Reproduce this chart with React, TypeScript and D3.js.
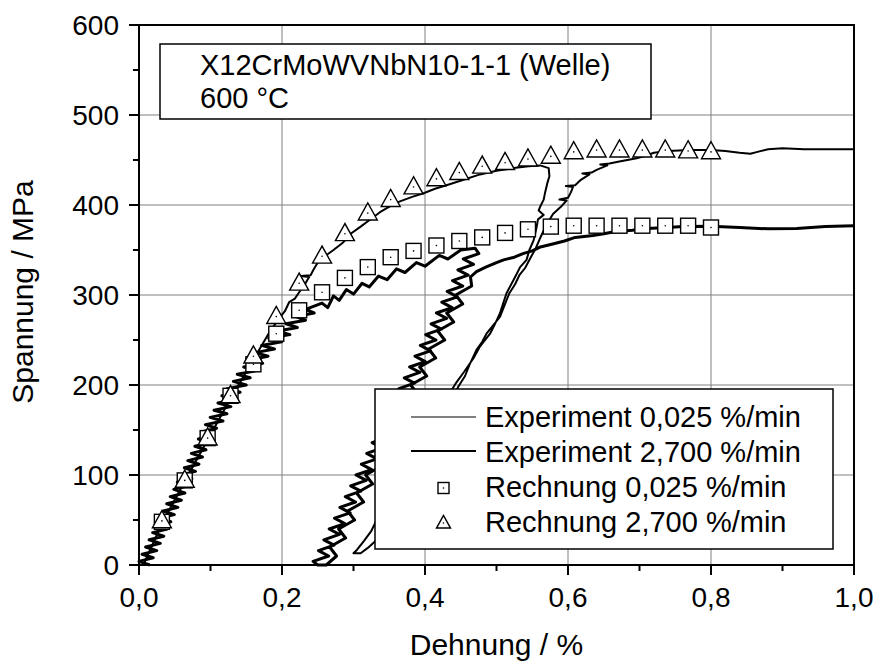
import * as d3 from "d3";

// Dehnung / % (strain) vs Spannung / MPa (stress)
const calcStrain = [0.032, 0.064, 0.096, 0.128, 0.16, 0.192, 0.224, 0.256, 0.288, 0.32, 0.352, 0.384, 0.416,
  0.448, 0.48, 0.512, 0.544, 0.576, 0.608, 0.64, 0.672, 0.704, 0.736, 0.768, 0.8];
const calcSlow = [48, 94, 141, 188, 223, 257, 283, 303, 319, 331, 342, 349, 355,
  360, 364, 369, 373, 376, 377, 377, 377, 377, 377, 377, 375];
const calcFast = [49, 94, 141, 188, 232, 276, 313, 343, 368, 391, 406, 420, 429,
  436, 443, 447, 451, 454, 459, 461, 461, 461, 461, 460, 459];

// Experiment 0,025 %/min (noisy signal, read as a zigzag band)
const expSlowLoading: [number, number][] = [
  [0.015, 0], [0.000, 4], [0.0199, 8], [0.0044, 12], [0.0248, 16], [0.0093, 20], [0.0298, 24], [0.0142, 28],
  [0.0347, 32], [0.0191, 36], [0.0396, 40], [0.0241, 44], [0.0445, 48], [0.029, 52], [0.0494, 56], [0.0339, 60],
  [0.0544, 64], [0.0388, 68], [0.0593, 72], [0.0437, 76], [0.0642, 80], [0.0487, 84], [0.0691, 88], [0.0536, 92],
  [0.074, 96], [0.0585, 100], [0.079, 104], [0.0634, 108], [0.0839, 112], [0.0683, 116], [0.0888, 120], [0.0733, 124],
  [0.0937, 128], [0.0782, 132], [0.0986, 136], [0.0831, 140], [0.1036, 144], [0.088, 148], [0.1085, 152], [0.0929, 156],
  [0.1175, 160], [0.0995, 164], [0.123, 168], [0.105, 172], [0.1285, 176], [0.1105, 180], [0.134, 184], [0.116, 188],
  [0.1415, 192], [0.1235, 196], [0.150, 200], [0.132, 204], [0.1555, 208], [0.1375, 212], [0.1645, 216], [0.1465, 220],
  [0.173, 224], [0.155, 228], [0.1805, 232], [0.1625, 236], [0.1895, 240], [0.1715, 244], [0.1995, 248], [0.1815, 252],
  [0.211, 256], [0.194, 260], [0.2215, 264], [0.2055, 268], [0.233, 272], [0.219, 276], [0.245, 280], [0.233, 284],
  [0.256, 291], [0.264, 286], [0.272, 299], [0.28, 294], [0.29, 306], [0.30, 301], [0.312, 313], [0.322, 309],
  [0.335, 321], [0.347, 317], [0.36, 329], [0.372, 325], [0.388, 336], [0.40, 332], [0.42, 344], [0.432, 340],
  [0.45, 350], [0.47, 352],
];
const expSlowUnloading: [number, number][] = [
  [0.4753, 346], [0.4535, 340], [0.4678, 334], [0.446, 328], [0.4603, 322], [0.4385, 316], [0.4528, 310],
  [0.431, 304], [0.4453, 298], [0.4235, 292], [0.4378, 286], [0.416, 280], [0.4303, 274], [0.4085, 268],
  [0.4228, 262], [0.401, 256], [0.4153, 250], [0.3935, 244], [0.4078, 238], [0.386, 232], [0.4003, 226],
  [0.3785, 220], [0.3928, 214], [0.371, 208], [0.3853, 202], [0.3635, 196], [0.3778, 190], [0.356, 184],
  [0.3703, 178], [0.3485, 172], [0.3628, 166], [0.341, 160], [0.3553, 154], [0.3335, 148], [0.3478, 142],
  [0.326, 136], [0.3403, 130], [0.3185, 124], [0.3328, 118], [0.311, 112], [0.3253, 106], [0.3035, 100],
  [0.3178, 94], [0.296, 88], [0.3103, 82], [0.2885, 76], [0.3028, 70], [0.281, 64], [0.2953, 58], [0.2735, 52],
  [0.2878, 46], [0.266, 40], [0.2803, 34], [0.2585, 28], [0.2728, 22], [0.251, 16], [0.2653, 10], [0.2435, 4],
  [0.25, 0],
];
const expSlowReloading: [number, number][] = [
  [0.262, 0], [0.2763, 10], [0.2666, 20], [0.2889, 30], [0.2792, 40], [0.3015, 50], [0.2918, 60], [0.3141, 70],
  [0.3044, 80], [0.3267, 90], [0.317, 100], [0.3393, 110], [0.3296, 120], [0.3519, 130], [0.3422, 140],
  [0.3645, 150], [0.3548, 160], [0.3771, 170], [0.3674, 180], [0.3897, 190], [0.380, 200], [0.4023, 210],
  [0.3926, 220], [0.4149, 230], [0.4052, 240], [0.4275, 250], [0.4178, 260], [0.4401, 270], [0.4304, 280],
  [0.4527, 290], [0.443, 300], [0.4653, 310], [0.4636, 320], [0.472, 326], [0.485, 331], [0.50, 336],
  [0.51, 339], [0.525, 342], [0.537, 346], [0.55, 349], [0.56, 353], [0.58, 357], [0.595, 360], [0.61, 364],
  [0.635, 366], [0.65, 368], [0.663, 370], [0.69, 372], [0.71, 374], [0.74, 375], [0.76, 376], [0.80, 376.5],
  [0.84, 375], [0.88, 373.5], [0.92, 374], [0.96, 376], [1.0, 377],
];

// Experiment 2,700 %/min
const expFastLoading: [number, number][] = [
  [0.006, 0], [0.032, 46], [0.064, 93], [0.096, 139], [0.128, 185], [0.148, 212], [0.165, 235], [0.182, 258],
  [0.196, 274], [0.204, 282], [0.21, 292], [0.218, 296], [0.224, 303], [0.232, 312], [0.238, 320], [0.226, 321],
  [0.24, 322], [0.244, 328], [0.25, 336], [0.258, 342], [0.272, 350], [0.285, 358], [0.296, 368], [0.31, 376],
  [0.322, 383], [0.337, 392], [0.352, 399], [0.365, 404], [0.382, 409], [0.398, 413], [0.414, 418], [0.43, 422],
  [0.454, 428], [0.477, 434], [0.5, 438], [0.524, 441], [0.545, 443], [0.561, 444], [0.573, 441],
];
const expFastUnloading: [number, number][] = [
  [0.574, 432], [0.571, 424], [0.568, 414], [0.566, 406], [0.561, 398], [0.559, 394], [0.566, 389], [0.558, 384],
  [0.556, 375], [0.552, 361], [0.546, 350], [0.542, 339], [0.533, 331], [0.528, 323], [0.524, 317], [0.514, 302],
  [0.509, 290], [0.505, 280], [0.498, 268], [0.491, 257], [0.477, 243], [0.468, 230], [0.455, 215], [0.444, 203],
  [0.42, 172], [0.40, 146], [0.38, 118], [0.36, 90], [0.34, 62], [0.325, 38], [0.315, 27], [0.305, 17], [0.30, 13],
];
const expFastReloading: [number, number][] = [
  [0.31, 13], [0.32, 19], [0.33, 26], [0.338, 36], [0.35, 55], [0.37, 85], [0.39, 115], [0.41, 145], [0.43, 175],
  [0.448, 200], [0.456, 210], [0.462, 222], [0.472, 239], [0.48, 248], [0.486, 257], [0.495, 266], [0.505, 276],
  [0.512, 290], [0.518, 302], [0.526, 312], [0.532, 322], [0.54, 330], [0.548, 342], [0.555, 352], [0.562, 365],
  [0.57, 378], [0.579, 390], [0.59, 398], [0.598, 405], [0.588, 406], [0.60, 408], [0.604, 414], [0.607, 420],
  [0.597, 421], [0.61, 422], [0.618, 428], [0.63, 434], [0.62, 435], [0.633, 436], [0.64, 439], [0.655, 444],
  [0.645, 445], [0.658, 446], [0.67, 448], [0.696, 452], [0.71, 455], [0.72, 458], [0.74, 460], [0.77, 461],
  [0.80, 461], [0.82, 460], [0.84, 458], [0.855, 457], [0.865, 459], [0.88, 462], [0.9, 463], [0.93, 462],
  [0.96, 462], [1.0, 462],
];

const xTicks = [0, 0.2, 0.4, 0.6, 0.8, 1.0];
const yTicks = [0, 100, 200, 300, 400, 500, 600];
const legendLabels = ["Experiment 0,025 %/min", "Experiment 2,700 %/min", "Rechnung 0,025 %/min", "Rechnung 2,700 %/min"];
const noteLines = ["X12CrMoWVNbN10-1-1 (Welle)", "600 °C"];

const W = 877, H = 662;
const m = { left: 139, right: 854, top: 25, bottom: 565 };
const FONT = "'Liberation Sans', Arial, sans-serif";

function Square({ cx, cy, s }: { cx: number; cy: number; s: number }) {
  return (
    <g>
      <rect x={cx - s / 2} y={cy - s / 2} width={s} height={s} fill="#fff" stroke="#000" strokeWidth={1.4} />
      <circle cx={cx} cy={cy} r={0.8} fill="#000" />
    </g>
  );
}

function Triangle({ cx, cy, s }: { cx: number; cy: number; s: number }) {
  const h = s * 0.9;
  const pts = `${cx},${cy - h * 0.6} ${cx - s / 2},${cy + h * 0.4} ${cx + s / 2},${cy + h * 0.4}`;
  return (
    <g>
      <polygon points={pts} fill="#fff" stroke="#000" strokeWidth={1.4} strokeLinejoin="miter" />
      <circle cx={cx} cy={cy} r={0.8} fill="#000" />
    </g>
  );
}

export default function App() {
  const x = d3.scaleLinear().domain([0, 1]).range([m.left, m.right]);
  const y = d3.scaleLinear().domain([0, 600]).range([m.bottom, m.top]);
  const line = d3.line<[number, number]>().x(d => x(d[0])).y(d => y(d[1]));
  const fmt = (v: number) => d3.format(".1f")(v).replace(".", ",");

  const xMinor = d3.range(0.1, 1, 0.2);
  const yMinor = d3.range(50, 600, 100);

  const slowPath = line([...expSlowLoading, ...expSlowUnloading, ...expSlowReloading]);
  const fastPath = line([...expFastLoading, ...expFastUnloading, ...expFastReloading]);

  const lg = { x0: 375, y0: 389, x1: 833, y1: 549 };
  const rows = [417, 451, 488, 523];

  return (
    <svg width={W} height={H} style={{ position: "absolute", left: 0, top: 0, background: "#fff" }} fontFamily={FONT}>
      <rect x={0} y={0} width={W} height={H} fill="#fff" />
      {/* grid */}
      {xTicks.slice(1, -1).map(t => (
        <line key={"gx" + t} x1={x(t)} x2={x(t)} y1={m.top} y2={m.bottom} stroke="#808080" strokeWidth={1} />
      ))}
      {yTicks.slice(1, -1).map(t => (
        <line key={"gy" + t} x1={m.left} x2={m.right} y1={y(t)} y2={y(t)} stroke="#808080" strokeWidth={1} />
      ))}

      {/* experiment curves */}
      <path d={slowPath ?? ""} fill="none" stroke="#000" strokeWidth={3} strokeLinejoin="round" />
      <path d={fastPath ?? ""} fill="none" stroke="#000" strokeWidth={2} strokeLinejoin="round" />

      {/* calculation markers */}
      {calcStrain.map((s, i) => <Square key={"sq" + i} cx={x(s)} cy={y(calcSlow[i])} s={15} />)}
      {calcStrain.map((s, i) => <Triangle key={"tr" + i} cx={x(s)} cy={y(calcFast[i])} s={19} />)}

      {/* frame */}
      <rect x={m.left} y={m.top} width={m.right - m.left} height={m.bottom - m.top} fill="none" stroke="#000" strokeWidth={2} />

      {/* x axis ticks */}
      {xTicks.map(t => (
        <g key={"xt" + t}>
          <line x1={x(t)} x2={x(t)} y1={m.bottom} y2={m.bottom + 10} stroke="#000" strokeWidth={2} />
          <text x={x(t)} y={607} fontSize={28} textAnchor="middle">{fmt(t)}</text>
        </g>
      ))}
      {xMinor.map(t => (
        <line key={"xm" + t} x1={x(t)} x2={x(t)} y1={m.bottom} y2={m.bottom + 6} stroke="#000" strokeWidth={2} />
      ))}
      {/* y axis ticks */}
      {yTicks.map(t => (
        <g key={"yt" + t}>
          <line x1={m.left - 10} x2={m.left} y1={y(t)} y2={y(t)} stroke="#000" strokeWidth={2} />
          <text x={119} y={y(t)} dy="0.36em" fontSize={28} textAnchor="end">{t}</text>
        </g>
      ))}
      {yMinor.map(t => (
        <line key={"ym" + t} x1={m.left - 6} x2={m.left} y1={y(t)} y2={y(t)} stroke="#000" strokeWidth={2} />
      ))}

      {/* axis titles */}
      <text x={(m.left + m.right) / 2} y={655} fontSize={30} textAnchor="middle">Dehnung / %</text>
      <text transform="translate(33,292) rotate(-90)" fontSize={30} textAnchor="middle">
        Spannung / MPa
      </text>

      {/* note box */}
      <rect x={160} y={44} width={491} height={75} fill="#fff" stroke="#000" strokeWidth={1.5} />
      {noteLines.map((t, i) => (
        <text key={"n" + i} x={200} y={75 + i * 33} fontSize={29}>{t}</text>
      ))}

      {/* legend */}
      <rect x={lg.x0} y={lg.y0} width={lg.x1 - lg.x0} height={lg.y1 - lg.y0} fill="#fff" stroke="#000" strokeWidth={1.5} />
      <line x1={411} x2={476} y1={rows[0]} y2={rows[0]} stroke="#000" strokeWidth={1} />
      <line x1={411} x2={476} y1={rows[1]} y2={rows[1]} stroke="#000" strokeWidth={2} />
      <Square cx={443.5} cy={rows[2]} s={11} />
      <Triangle cx={443.5} cy={rows[3]} s={14} />
      {legendLabels.map((t, i) => (
        <text key={"l" + i} x={485} y={[427, 462, 497, 532][i]} fontSize={29}>{t}</text>
      ))}
    </svg>
  );
}
